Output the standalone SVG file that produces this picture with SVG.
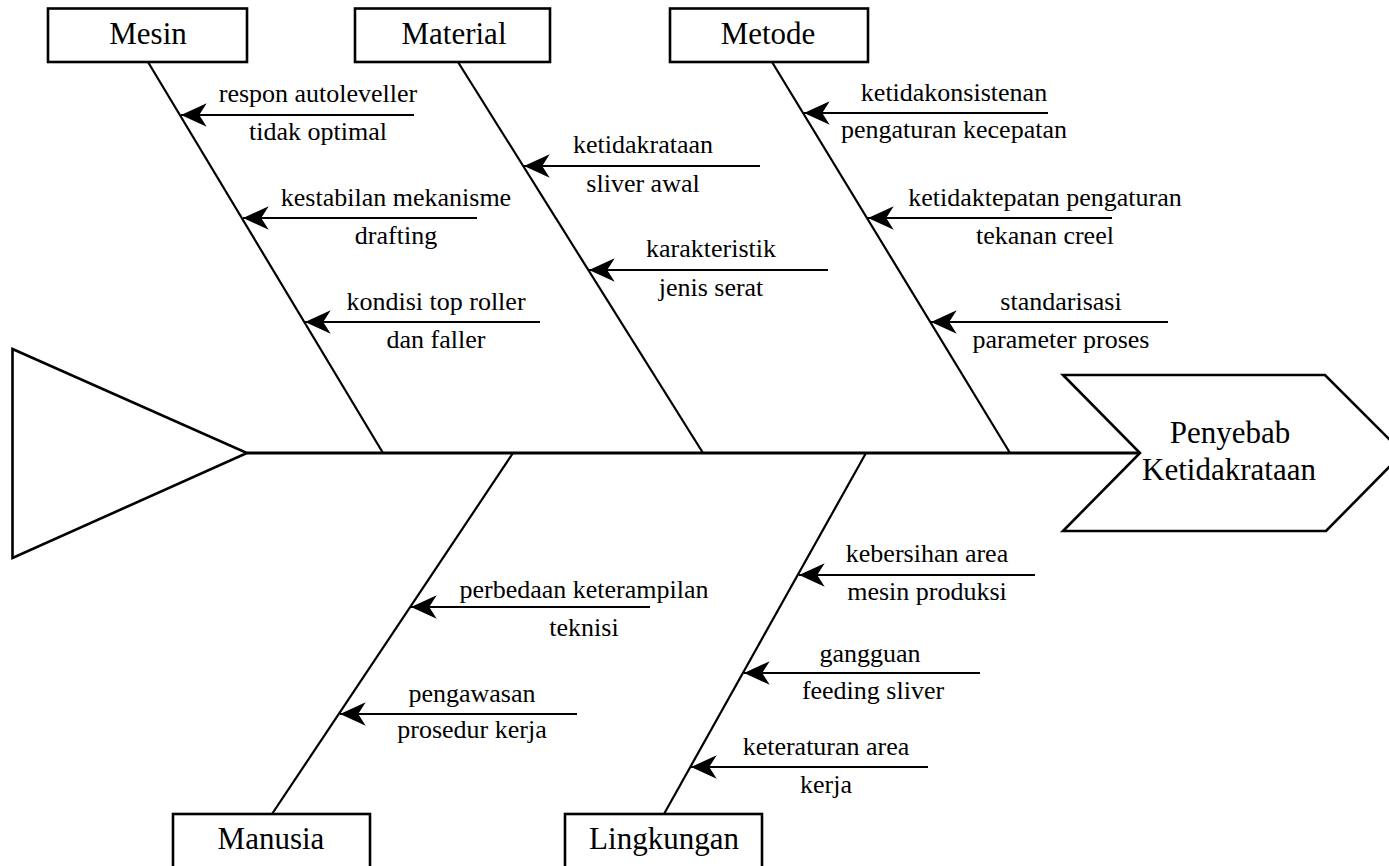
<svg xmlns="http://www.w3.org/2000/svg" width="1389" height="866" viewBox="0 0 1389 866">
<style>
.bg{fill:#fff}
.box{fill:#fff;stroke:#000;stroke-width:2.6}
.shape{fill:#fff;stroke:#000;stroke-width:2.6;stroke-linejoin:miter}
.bone{stroke:#000;stroke-width:2.2;fill:none}
.arr{stroke:#000;stroke-width:2.2;fill:none;marker-end:url(#ah)}
.lbl{font-family:"Liberation Serif","Times New Roman",serif;font-size:31px;fill:#000;text-anchor:middle}
.sm{font-family:"Liberation Serif","Times New Roman",serif;font-size:26px;fill:#000;text-anchor:middle}
</style>
<defs>
<marker id="ah" markerUnits="userSpaceOnUse" markerWidth="30" markerHeight="30" viewBox="-26 -13 28 26" refX="0" refY="0" orient="auto">
<path d="M0,0 L-24,-11 L-17,0 L-24,11 Z" fill="#000"/>
</marker>
</defs>
<rect class="bg" x="0" y="0" width="1389" height="866"/>

<g id="connectors">
<line class="bone" x1="247" y1="453" x2="1140" y2="453" style="stroke-width:2.8"/>
<line class="bone" x1="148" y1="62" x2="383" y2="453"/>
<line class="bone" x1="458" y1="62" x2="703" y2="453"/>
<line class="bone" x1="772" y1="62" x2="1010" y2="453"/>
<line class="bone" x1="513" y1="453" x2="272" y2="814"/>
<line class="bone" x1="866" y1="453" x2="664" y2="814"/>

<line class="arr" x1="414" y1="115" x2="181" y2="115"/>
<line class="arr" x1="477" y1="218" x2="243" y2="218"/>
<line class="arr" x1="540" y1="322" x2="305" y2="322"/>
<line class="arr" x1="760" y1="166" x2="524" y2="166"/>
<line class="arr" x1="828" y1="270" x2="589" y2="270"/>
<line class="arr" x1="1048" y1="113" x2="804" y2="113"/>
<line class="arr" x1="1112" y1="218" x2="868" y2="218"/>
<line class="arr" x1="1168" y1="322" x2="931" y2="322"/>
<line class="arr" x1="650" y1="607" x2="411" y2="607"/>
<line class="arr" x1="577" y1="714" x2="340" y2="714"/>
<line class="arr" x1="1035" y1="575" x2="799" y2="575"/>
<line class="arr" x1="980" y1="673" x2="744" y2="673"/>
<line class="arr" x1="928" y1="767" x2="691" y2="767"/>
</g>

<g id="head-triangle">
<polygon class="shape" points="12.5,349 247,453 12.5,558"/>
</g>

<g id="effect">
<polygon class="shape" points="1063,375 1325,375 1403,453 1326,531 1063,531 1140,453"/>
<text class="lbl" x="1230" y="443">Penyebab</text>
<text class="lbl" x="1229" y="480">Ketidakrataan</text>
</g>

<g id="mesin">
<rect class="box" x="48" y="8.5" width="199" height="53.5"/>
<text class="lbl" x="148" y="44">Mesin</text>
</g>
<g id="material">
<rect class="box" x="355" y="8.5" width="195" height="53.5"/>
<text class="lbl" x="454" y="44">Material</text>
</g>
<g id="metode">
<rect class="box" x="670" y="8.5" width="198" height="53.5"/>
<text class="lbl" x="768" y="44">Metode</text>
</g>
<g id="manusia">
<rect class="box" x="173" y="814" width="197" height="70"/>
<text class="lbl" x="271" y="849">Manusia</text>
</g>
<g id="lingkungan">
<rect class="box" x="565" y="814" width="197" height="70"/>
<text class="lbl" x="664" y="849">Lingkungan</text>
</g>

<g id="cause-labels">
<text class="sm" x="318" y="102">respon autoleveller</text>
<text class="sm" x="318" y="140">tidak optimal</text>
<text class="sm" x="396" y="206">kestabilan mekanisme</text>
<text class="sm" x="396" y="244">drafting</text>
<text class="sm" x="436" y="310">kondisi top roller</text>
<text class="sm" x="436" y="348">dan faller</text>

<text class="sm" x="643" y="153">ketidakrataan</text>
<text class="sm" x="643" y="192">sliver awal</text>
<text class="sm" x="711" y="257">karakteristik</text>
<text class="sm" x="711" y="296">jenis serat</text>

<text class="sm" x="954" y="101">ketidakonsistenan</text>
<text class="sm" x="954" y="138">pengaturan kecepatan</text>
<text class="sm" x="1045" y="206">ketidaktepatan pengaturan</text>
<text class="sm" x="1045" y="244">tekanan creel</text>
<text class="sm" x="1061" y="310">standarisasi</text>
<text class="sm" x="1061" y="348">parameter proses</text>

<text class="sm" x="584" y="598">perbedaan keterampilan</text>
<text class="sm" x="584" y="636">teknisi</text>
<text class="sm" x="472" y="702">pengawasan</text>
<text class="sm" x="472" y="738">prosedur kerja</text>

<text class="sm" x="927" y="562">kebersihan area</text>
<text class="sm" x="927" y="600">mesin produksi</text>
<text class="sm" x="870" y="662">gangguan</text>
<text class="sm" x="873" y="699">feeding sliver</text>
<text class="sm" x="826" y="755">keteraturan area</text>
<text class="sm" x="826" y="793">kerja</text>
</g>
</svg>
